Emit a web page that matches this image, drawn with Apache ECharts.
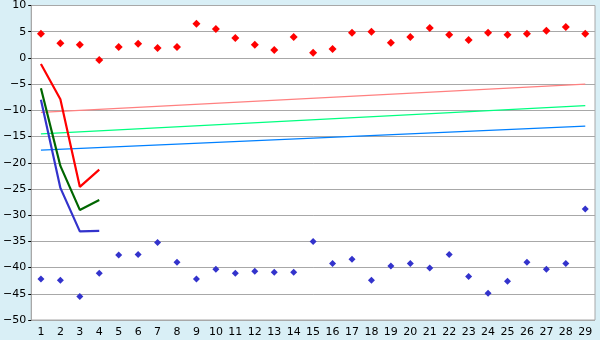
<!DOCTYPE html>
<html><head><meta charset="utf-8">
<script src="https://cdn.jsdelivr.net/npm/echarts@6/dist/echarts.min.js"></script>
<style>html,body{margin:0;padding:0;background:#d9eff6}#c{width:600px;height:340px}</style>
</head><body><div id="c"></div>
<script>
var categories = ['1','2','3','4','5','6','7','8','9','10','11','12','13','14','15','16','17','18','19','20','21','22','23','24','25','26','27','28','29'];
var yTicks = [-50,-45,-40,-35,-30,-25,-20,-15,-10,-5,0,5,10];
var redPoints = [4.6,2.8,2.5,-0.4,2.1,2.7,1.9,2.1,6.5,5.5,3.8,2.5,1.5,4.0,1.0,1.7,4.8,5.0,2.9,4.0,5.7,4.4,3.4,4.8,4.4,4.6,5.2,5.9,4.6];
var bluePoints = [-42.2,-42.4,-45.5,-41.1,-37.6,-37.5,-35.2,-39.0,-42.2,-40.3,-41.1,-40.7,-40.9,-40.9,-35.0,-39.2,-38.4,-42.4,-39.7,-39.2,-40.1,-37.5,-41.7,-44.9,-42.6,-39.0,-40.3,-39.2,-28.8];
var redLine = [-1.15,-7.9,-24.6,-21.3];
var greenLine = [-5.8,-20.6,-29.0,-27.1];
var blueLine = [-8.0,-24.8,-33.1,-33.0];
var redTrend = [-10.4,-5.0];
var greenTrend = [-14.5,-9.1];
var blueTrend = [-17.6,-13.0];

function trend(v){ return [[0, v[0]], [categories.length-1, v[1]]]; }
var chart = echarts.init(document.getElementById('c'), null, {renderer:'canvas'});
var font = 'DejaVu Sans';
chart.setOption({
  backgroundColor: '#d9eff6',
  animation: false,
  grid: {left: 26, right: 5, top: 5, bottom: 20, show: true, backgroundColor: '#ffffff', borderColor: '#a8a8a8', borderWidth: 1},
  xAxis: {
    type: 'category', data: categories, boundaryGap: true,
    axisLine: {lineStyle: {color: '#a8a8a8'}},
    axisTick: {alignWithLabel: true, length: 6, lineStyle: {color: '#000'}},
    axisLabel: {color: '#000', fontFamily: font, fontSize: 11, margin: 7},
    splitLine: {show: false}
  },
  yAxis: {
    type: 'value', min: yTicks[0], max: yTicks[yTicks.length-1], interval: 5,
    axisLine: {show: true, lineStyle: {color: '#a8a8a8'}},
    axisTick: {show: true, length: 3, lineStyle: {color: '#000'}},
    axisLabel: {color: '#000', fontFamily: font, fontSize: 11, margin: 5,
      formatter: function(v){ return v < 0 ? '\u2212' + Math.abs(v) : String(v); }},
    splitLine: {lineStyle: {color: '#a8a8a8'}}
  },
  series: [
    {type:'line', data: trend(redTrend), symbol:'none', lineStyle:{color:'#ff8080', width:1.2}},
    {type:'line', data: trend(greenTrend), symbol:'none', lineStyle:{color:'#00ff80', width:1.2}},
    {type:'line', data: trend(blueTrend), symbol:'none', lineStyle:{color:'#0080ff', width:1.2}},
    {type:'line', data: redLine, symbol:'none', lineStyle:{color:'#ff0000', width:2.2}},
    {type:'line', data: greenLine, symbol:'none', lineStyle:{color:'#006600', width:2.2}},
    {type:'line', data: blueLine, symbol:'none', lineStyle:{color:'#3333cc', width:2.2}},
    {type:'scatter', data: redPoints, symbol:'diamond', symbolSize:8, itemStyle:{color:'#ff0000', opacity:1}},
    {type:'scatter', data: bluePoints, symbol:'diamond', symbolSize:7, itemStyle:{color:'#3333cc', opacity:1}}
  ]
});
</script></body></html>
